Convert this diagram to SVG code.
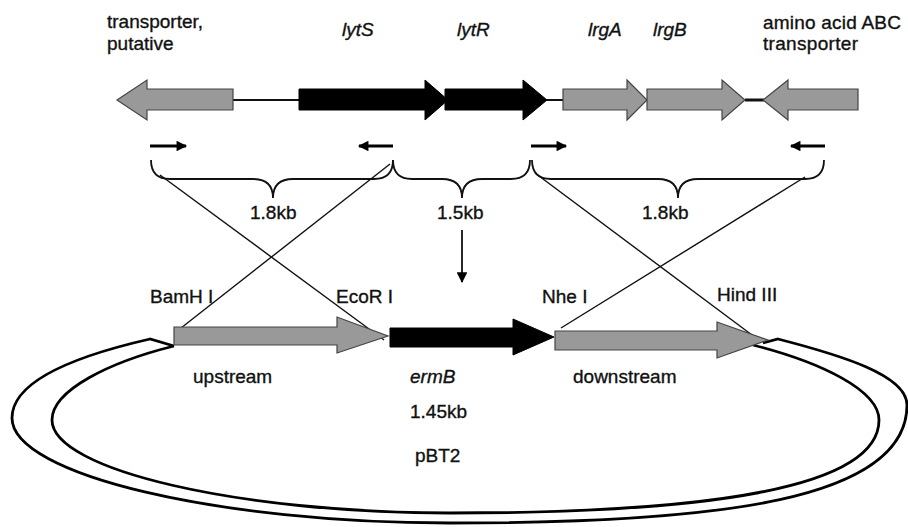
<svg xmlns="http://www.w3.org/2000/svg" width="908" height="527" viewBox="0 0 908 527">
<defs>
<style>
text{font-family:"Liberation Sans",Arial,sans-serif;font-size:19px;fill:#111;stroke:#111;stroke-width:0.35}
.it{font-style:italic}
.gray{fill:#999;stroke:#444;stroke-width:1.2}
.blk{fill:#000;stroke:#000;stroke-width:1}
.ln{fill:none;stroke:#111;stroke-width:1.4}
.br{fill:none;stroke:#111;stroke-width:1.8}
.pr{fill:none;stroke:#000;stroke-width:3}
.pl{fill:none;stroke:#000;stroke-width:2.8}
</style>
<marker id="ah" viewBox="0 0 10 10" refX="9" refY="5" markerWidth="4" markerHeight="3.5" orient="auto" markerUnits="strokeWidth">
<path d="M0,0 L10,5 L0,10 Z" fill="#000"/>
</marker>
<marker id="ah2" viewBox="0 0 10 10" refX="9" refY="5" markerWidth="7" markerHeight="6" orient="auto" markerUnits="strokeWidth">
<path d="M0,0 L10,5 L0,10 Z" fill="#000"/>
</marker>
</defs>
<rect width="908" height="527" fill="#fff"/>

<!-- chromosome backbone -->
<g id="backbone">
<line x1="233" y1="100" x2="300" y2="100" stroke="#111" stroke-width="2"/>
<line x1="545" y1="100" x2="564" y2="100" stroke="#111" stroke-width="2"/>
<line x1="745" y1="100" x2="764" y2="100" stroke="#111" stroke-width="3"/>
</g>

<g id="transporter-putative">
<path class="gray" d="M233,89 L147,89 L147,80 L117,100 L147,120 L147,110 L233,110 Z"/>
<text x="107" y="28">transporter,</text>
<text x="107" y="50">putative</text>
</g>
<g id="lytS">
<path class="blk" d="M299,89 L425,89 L425,80 L448,100 L425,120 L425,110 L299,110 Z"/>
<text class="it" x="342" y="36">lytS</text>
</g>
<g id="lytR">
<path class="blk" d="M445,89 L523,89 L523,80 L547,100 L523,120 L523,110 L445,110 Z"/>
<text class="it" x="457" y="36">lytR</text>
</g>
<g id="lrgA">
<path class="gray" d="M563,89 L627,89 L627,80 L647,100 L627,120 L627,110 L563,110 Z"/>
<text class="it" x="588" y="36">lrgA</text>
</g>
<g id="lrgB">
<path class="gray" d="M647,89 L722,89 L722,80 L745,100 L722,120 L722,110 L647,110 Z"/>
<text class="it" x="653" y="36">lrgB</text>
</g>
<g id="amino-acid-ABC-transporter">
<path class="gray" d="M858,89 L788,89 L788,80 L763,100 L788,120 L788,110 L858,110 Z"/>
<text x="763" y="29" textLength="138" lengthAdjust="spacing">amino acid ABC</text>
<text x="763" y="50" textLength="95" lengthAdjust="spacing">transporter</text>
</g>

<!-- primers -->
<g id="primers">
<line class="pr" x1="150" y1="146" x2="186" y2="146" marker-end="url(#ah)"/>
<line class="pr" x1="393" y1="146" x2="359" y2="146" marker-end="url(#ah)"/>
<line class="pr" x1="531" y1="146" x2="566" y2="146" marker-end="url(#ah)"/>
<line class="pr" x1="825" y1="146" x2="791" y2="146" marker-end="url(#ah)"/>
</g>

<!-- braces -->
<g id="braces">
<path class="br" d="M151,160 Q151,179 170,179 L253,179 Q273,179 273,198 Q273,179 293,179 L374,179 Q393,179 393,160"/>
<path class="br" d="M393,160 Q393,179 412,179 L442,179 Q462,179 462,198 Q462,179 482,179 L511,179 Q530,179 530,160"/>
<path class="br" d="M532,160 Q532,179 551,179 L658,179 Q678,179 678,198 Q678,179 698,179 L805,179 Q824,179 824,160"/>
<text x="250" y="219">1.8kb</text>
<text x="437" y="219">1.5kb</text>
<text x="642" y="219">1.8kb</text>
</g>

<!-- connectors -->
<g id="connectors">
<line class="ln" x1="160" y1="175" x2="384" y2="340"/>
<line class="ln" x1="390" y1="164" x2="181" y2="328"/>
<line class="ln" x1="535" y1="173" x2="760" y2="341"/>
<line class="ln" x1="805" y1="177" x2="561" y2="328"/>
<line x1="462" y1="230" x2="462" y2="282" stroke="#111" stroke-width="1.8" marker-end="url(#ah2)"/>
</g>

<!-- plasmid -->
<g id="pBT2">
<path class="pl" d="M174,346 L150,339 C80,355 12,380 12,418 C12,475 220,523 450,523 C720,523 907,500 907,405 C907,375 840,355 778,339 L763,343"/>
<path class="pl" d="M174,346 C110,362 52,390 52,420 C52,470 240,513 450,513 C700,513 879,490 879,420 C879,390 820,362 753,345"/>
<text x="415" y="462">pBT2</text>
</g>

<g id="upstream">
<path class="gray" d="M174,327 L337,327 L337,317 L388,336 L337,353 L337,345 L174,345 Z"/>
<text x="193" y="383">upstream</text>
<text x="150" y="303">BamH I</text>
<text x="336" y="303">EcoR I</text>
</g>
<g id="ermB">
<path class="blk" d="M390,328 L513,328 L513,319 L554,337 L513,355 L513,347 L390,347 Z"/>
<text class="it" x="410" y="383">ermB</text>
<text x="410" y="418">1.45kb</text>
</g>
<g id="downstream">
<path class="gray" d="M555,331 L717,331 L717,322 L768,340 L717,358 L717,350 L555,350 Z"/>
<text x="573" y="383">downstream</text>
<text x="542" y="303">Nhe I</text>
<text x="717" y="301">Hind III</text>
</g>
</svg>
